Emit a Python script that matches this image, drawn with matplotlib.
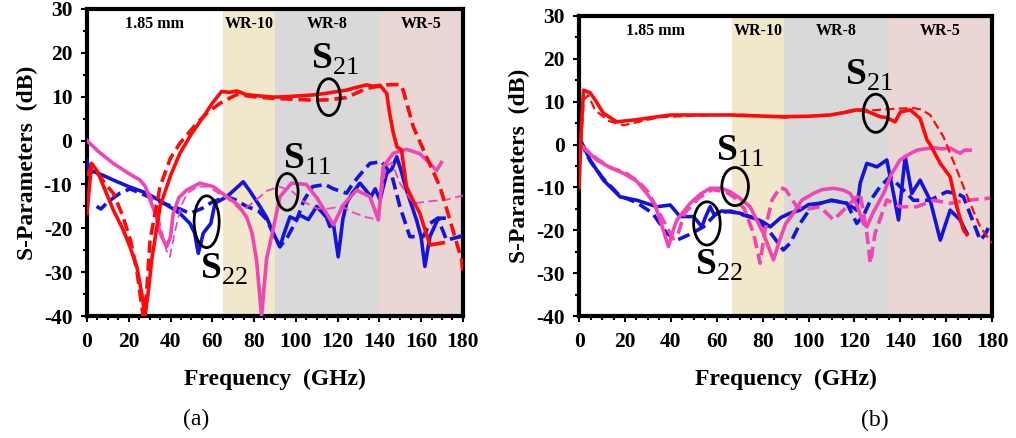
import numpy as np
import matplotlib
matplotlib.use("Agg")
import matplotlib.pyplot as plt
from matplotlib.patches import Ellipse
from matplotlib.ticker import MultipleLocator

plt.rcParams['font.family'] = ['Liberation Serif', 'DejaVu Serif']
plt.rcParams['mathtext.fontset'] = 'custom'
plt.rcParams['mathtext.rm'] = 'Liberation Serif'
plt.rcParams['mathtext.bf'] = 'Liberation Serif:bold'
plt.rcParams['axes.unicode_minus'] = False

RED = '#ff0a0a'
BLUE = '#1414d8'
PINK = '#f046b4'

# ---------------- panel (a) data ----------------
a_s21_f = [0, 2.2, 5, 8, 12.6, 17, 20.6, 24, 26.2, 27.8, 29.5, 31, 35, 40, 44.5, 50, 55.7, 60, 64.5, 68,
           72, 76, 82, 89.2, 95, 102, 108.3, 115, 120, 124.3, 128, 133.9, 137, 140.3, 143.5, 145, 146.7,
           148.5, 150.6, 153, 156, 159.4, 164.2, 170.6]
a_s21 = [-16.6, -5.2, -7, -10.5, -15.8, -20, -24.2, -29, -34.8, -40, -34, -27.2, -15, -8, -2.9, 1.5, 5.4, 8.5,
         11.2, 11.0, 11.3, 10.5, 10.2, 9.9, 10.0, 10.2, 10.4, 10.8, 11.2, 11.5, 12.0, 12.7, 12.4, 12.6, 10.8,
         6, 1.7, -1.5, -2.1, -10.5, -13.5, -16.6, -23.8, -23.3]

a_s21m_f = [0, 2, 6, 9, 12.6, 17, 21, 24, 26, 27, 28.5, 30.2, 35, 40, 44.5, 52.5, 58, 63.7, 71.7, 80, 90,
            100, 108.3, 116, 124.3, 133.9, 143.5, 149.8, 151.4, 156.2, 162.6, 169, 173.8, 179.4, 180]
a_s21m = [-8, -6, -8, -10, -12, -17, -23, -30, -37, -40, -35, -22.7, -10.5, -4, -0.6, 3.9, 6.5, 8.5, 10.5,
          10.0, 9.6, 9.4, 9.2, 9.3, 9.8, 11.9, 12.7, 12.8, 11.5, 3.2, -3.7, -10.5, -18.1, -27.2, -30]

a_s11_f = [0, 5, 12.6, 20, 25.4, 28, 30.2, 33, 35, 38.1, 40, 41.3, 44, 47.7, 54.1, 60.5, 66.9, 72, 76.4, 79,
           81.2, 83.6, 86, 88.4, 92.4, 98, 105, 110, 114.7, 118, 122.7, 129.1, 135.5, 139.5, 141.8, 146.7,
           153, 159.4, 164.2, 167.4, 169.7]
a_s11 = [0, -2.3, -5.2, -7.5, -9, -10.5, -13.5, -17, -21.1, -24.2, -22, -16.6, -13, -11.3, -9.7, -10.5, -12.8,
         -14.5, -17.4, -21, -27.2, -40, -27, -21.9, -12.8, -9.7, -10, -13, -16.6, -19.2, -14.7, -11.3, -12.8,
         -18.1, -6, -2.9, -2, -3, -5.2, -6.8, -5]

a_s11m_f = [0, 5, 12, 20, 26, 30, 33, 36, 38, 39.7, 42, 45, 48, 53, 58, 63, 68, 74, 80, 86, 92, 98, 104,
            110, 116, 122, 128, 134, 139, 141, 143, 146, 149.8, 153, 156.2, 165, 172, 180]
a_s11m = [0, -2.5, -5, -7.5, -9.5, -12, -15, -21, -25, -26.5, -21, -15, -12, -10.5, -10.5, -12, -13.5,
          -16, -14, -11.5, -10.5, -11.5, -14, -15.5, -15.5, -15, -16.5, -17.5, -18, -13, -6, -5, -9.7,
          -12, -14.3, -13.8, -13.5, -12.5]

a_s22_f = [0, 1.5, 3, 8, 12.6, 20, 28.6, 36, 44.5, 49.3, 51.5, 53.3, 55.7, 59.3, 61.3, 66.9, 70, 74.8, 78,
           82.8, 86, 89.2, 92.4, 94.5, 97.2, 100, 102, 106, 110, 114.7, 116.3, 118, 120.3, 122.5, 124.3,
           127, 130.7, 133, 136, 138, 140.3, 143.5, 146, 148.3, 150.5, 153, 157.8, 160, 161.8, 164.2,
           168.2, 171]
a_s22 = [-4.5, -7.5, -7, -8, -9, -10.5, -12, -14, -16.6, -18.9, -21, -25.7, -21.1, -18.9, -14.3, -12.8,
         -11.5, -9.4, -11.5, -15, -17.5, -21.1, -24.2, -21, -17.4, -18, -17, -18, -15, -17.5, -19.6, -19,
         -26.5, -18, -14.3, -12, -9.7, -11, -12.8, -11, -13.5, -7.5, -6.5, -3.7, -7, -11.3, -18.1, -22,
         -28.7, -21.9, -17.7, -17.7]

a_s22m_f = [4.6, 6.7, 10, 15.8, 20.6, 28, 36.5, 44, 49.3, 55, 60, 66.9, 71, 76.4, 82, 86, 89, 92.4, 96,
            100.4, 104, 108, 114, 118, 124.3, 127, 130.7, 135.5, 141.1, 145.9, 149.8, 154.6, 161, 164.2,
            168, 172.2, 178.6, 180]
a_s22m = [-15, -15.6, -14, -12, -11, -12.5, -14.3, -15.5, -16.6, -15.5, -14, -12.8, -13.5, -15, -16, -18,
          -21, -24.2, -22, -18.1, -13.5, -10.5, -10, -11, -12, -10, -7.8, -5.2, -4.8, -7.8, -15, -21.9,
          -21.9, -18.9, -17.7, -22.7, -21.9, -20]

# ---------------- panel (b) data ----------------
b_s21_f = [0, 0.8, 1.9, 4.8, 7.5, 10.6, 16.4, 25, 39.7, 65.8, 87.6, 100, 109.4, 116, 121, 125.4, 131.2,
           134, 137.7, 140, 144.3, 148.6, 151.6, 153, 157.4, 161.7, 164.6, 167.5, 169]
b_s21 = [-10, 2, 12.7, 12.1, 10, 7.3, 5.3, 5.8, 6.9, 6.9, 6.5, 6.6, 6.9, 7.5, 8.1, 7.8, 6.5, 6.3, 5.3,
         7.6, 8.1, 6.1, 1.1, 0, -4.4, -7.5, -14.5, -19.9, -21]

b_s21m_f = [1, 2, 4, 7, 10.6, 13, 19.3, 25, 35, 50, 70, 90, 110, 121, 128, 133, 140, 145.7, 149, 153,
            158.8, 164.6, 170.4, 174.8, 179.9]
b_s21m = [1, 10.5, 11.5, 8, 6.5, 5.5, 4.5, 5.2, 6.4, 6.7, 7.0, 6.3, 7.0, 8.3, 8.0, 8.2, 8.4, 8.5, 8.2,
          6.9, 1.8, -5.9, -13.7, -19.2, -23]

b_s11_f = [0.4, 7.7, 13, 19.3, 25, 29.5, 33, 35.3, 38.9, 41, 42.6, 48.4, 53, 57.1, 62, 65.8, 70, 74.5,
           80.3, 84.7, 87.6, 90, 93.4, 97, 102.1, 106, 110.9, 115, 118.1, 121, 123.9, 125.4, 128, 132.7,
           136, 139.9, 143, 147.2, 154.5, 158, 161.8, 164, 166.1, 168, 170.4]
b_s11 = [0, -3.6, -5.2, -6.7, -8.5, -11.4, -14, -17.6, -23.8, -20, -17.6, -13.7, -11.5, -10.2, -10.2, -11,
         -12.5, -14.5, -20.7, -26.9, -22, -18.5, -16, -13, -11.4, -10.5, -10.2, -10.6, -11.4, -14, -18.4,
         -19.2, -16, -11.4, -7, -3.6, -2.5, -1.3, -0.7, -1, -0.8, -1.5, -2, -1.3, -1.3]

b_s11m_f = [0.4, 7.7, 14, 20, 26, 30, 34, 38, 41, 43, 46, 52, 58, 64, 68, 72, 76, 78.9, 81, 84, 87.6, 90,
            94.9, 100, 105, 110.9, 116.7, 122.5, 125.4, 126.9, 129, 134.1, 139.9, 147.2, 154.5, 161.8,
            169.1, 179.2]
b_s11m = [0, -3.3, -5.5, -6.5, -8.7, -11, -15, -19, -22, -21, -16, -12.5, -10.5, -11, -12.5, -15, -20.7,
          -27.7, -20, -13, -10, -10.5, -14.5, -15, -14.5, -17.6, -14.5, -11.4, -20.7, -27.7, -20.7, -12.9,
          -14.5, -14.5, -13, -13.7, -13, -12.5]

b_s22_f = [0.4, 4.8, 10.6, 17.9, 25.2, 33.9, 39.7, 44, 49.9, 53.5, 55, 57.1, 59, 62, 64.4, 70, 74.5, 80,
           83.3, 88, 92, 96.3, 100, 105, 110, 116.7, 121, 122.5, 125.4, 129.8, 134.1, 137, 139.2, 142.1,
           145, 148.6, 153, 157.4, 161.7, 166.1, 169]
b_s22 = [1.2, -3.6, -8.3, -12.2, -13, -14.5, -14.1, -16.8, -16.8, -19.2, -17, -14.5, -16.5, -15.5, -15.6,
         -16, -16.8, -18, -19.2, -17, -16, -15.3, -14, -13.7, -13, -13.7, -15.3, -9, -4.4, -5.2, -3.6, -11.4,
         -17.6, -2.8, -11.4, -8.3, -13, -22.3, -15.3, -17.6, -20.7]

b_s22m_f = [0.4, 5, 10.6, 17.9, 25, 32, 38.2, 42.6, 48, 54.2, 60, 66, 72, 78, 84, 89, 92, 96.3, 100, 105,
            110, 116.7, 121, 124, 127, 131.2, 135.5, 139.9, 145.7, 153, 160.2, 165, 167.5, 171, 174.8, 177,
            179.2]
b_s22m = [1, -4, -8, -12, -13.5, -16, -20.7, -22.3, -21, -19.2, -16, -15.5, -16.5, -17.5, -21, -24.6, -23,
          -18.4, -15.5, -13.7, -13, -13.7, -18.4, -16.5, -13, -9.8, -7.5, -9.8, -13, -13, -11, -11.5, -12.2,
          -17, -22.3, -21, -18.4]

band_names = ['1.85 mm', 'WR-10', 'WR-8', 'WR-5']
a_bands = [0, 65, 90, 140, 180]
b_bands = [0, 66.5, 89.5, 134.5, 180]
band_colors = ['white', '#f1e7cb', '#d9d9d9', '#e9d6d5']

# ellipse centre, width, height; label offset from centre
a_marks = {'21': (115.8, 9.9, 11, 8.4, 2.9, 8.7), '11': (95.9, -11.7, 10.4, 8.4, 9.3, 7.4),
           '22': (57.3, -18.5, 12, 11.8, 8.5, -10.8)}
b_marks = {'21': (129.3, 7.3, 10.9, 8.9, -2.9, 8.9), '11': (68, -9.8, 11.6, 8.9, 2.2, 8.3),
           '22': (55.7, -18.4, 11.6, 10.1, 5.1, -9.8)}


def setup_axes(ax, bands):
    for i in range(4):
        ax.axvspan(bands[i], bands[i + 1], color=band_colors[i], lw=0, zorder=0)
        ax.text((bands[i] + bands[i + 1]) / 2, 26.5, band_names[i], ha='center', va='center',
                fontsize=11.5, fontweight='bold')
    ax.set_xlim(0, 180)
    ax.set_ylim(-40, 30)
    ax.xaxis.set_major_locator(MultipleLocator(20))
    ax.xaxis.set_minor_locator(MultipleLocator(5))
    ax.yaxis.set_major_locator(MultipleLocator(10))
    ax.yaxis.set_minor_locator(MultipleLocator(5))
    ax.tick_params(which='both', direction='out', width=1.5, labelsize=15.5)
    ax.tick_params(which='major', length=4.5)
    ax.tick_params(which='minor', length=3)
    ax.tick_params(axis='x', pad=7)
    ax.tick_params(axis='y', pad=6)
    for lab in ax.get_xticklabels() + ax.get_yticklabels():
        lab.set_fontweight('bold')
    for sp in ax.spines.values():
        sp.set_linewidth(3)
    ax.set_xlabel('Frequency  (GHz)', fontsize=17, fontweight='bold', labelpad=12)
    ax.set_ylabel('S-Parameters  (dB)', fontsize=17, fontweight='bold', labelpad=4)


def add_marks(ax, marks):
    for key, (cx, cy, w, h, dx, dy) in marks.items():
        ax.add_patch(Ellipse((cx, cy), w, h, fill=False, ec='black', lw=2, zorder=6))
        ax.text(cx + dx, cy + dy, r'$\mathbf{S}_{\mathrm{' + key + '}}$', fontsize=27,
                ha='center', va='center', zorder=7)


fig = plt.figure(figsize=(10.16, 4.38), dpi=100)
ax1 = fig.add_axes([0.0856, 0.2785, 0.370, 0.701])
ax2 = fig.add_axes([0.570, 0.2785, 0.4065, 0.685])

setup_axes(ax1, a_bands)
ax1.plot(a_s22m_f, a_s22m, color=BLUE, lw=2.6, dashes=(3.4, 1.6), zorder=3)
ax1.plot(a_s22_f, a_s22, color=BLUE, lw=2.6, zorder=3)
ax1.plot(a_s11m_f, a_s11m, color=PINK, lw=1.3, dashes=(5, 2.5), zorder=3)
ax1.plot(a_s11_f, a_s11, color=PINK, lw=2.6, zorder=3)
ax1.plot(a_s21m_f, a_s21m, color=RED, lw=2.6, dashes=(3.4, 1.6), zorder=4)
ax1.plot(a_s21_f, a_s21, color=RED, lw=2.6, zorder=4)
add_marks(ax1, a_marks)
fig.text(0.193, 0.043, '(a)', fontsize=17, ha='center', va='center')

setup_axes(ax2, b_bands)
ax2.plot(b_s22m_f, b_s22m, color=BLUE, lw=2.6, dashes=(3.4, 1.6), zorder=3)
ax2.plot(b_s22_f, b_s22, color=BLUE, lw=2.6, zorder=3)
ax2.plot(b_s11m_f, b_s11m, color=PINK, lw=2.6, dashes=(3.4, 1.6), zorder=3)
ax2.plot(b_s11_f, b_s11, color=PINK, lw=2.6, zorder=3)
ax2.plot(b_s21m_f, b_s21m, color=RED, lw=1.6, dashes=(4, 2), zorder=4)
ax2.plot(b_s21_f, b_s21, color=RED, lw=2.6, zorder=4)
add_marks(ax2, b_marks)
fig.text(0.861, 0.04, '(b)', fontsize=17, ha='center', va='center')

fig.savefig('out.png', dpi=100)
